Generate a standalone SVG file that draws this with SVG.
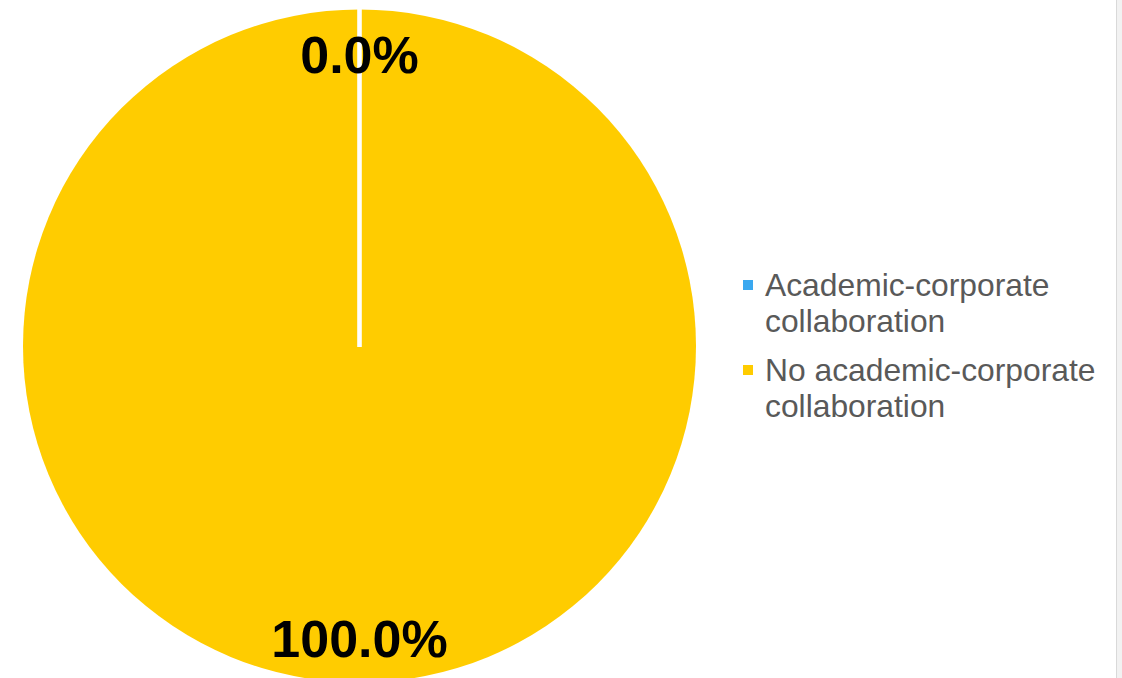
<svg xmlns="http://www.w3.org/2000/svg" width="1122" height="678" viewBox="0 0 1122 678">
  <style>
    .lbl { font-family: "Liberation Sans", Arial, sans-serif; font-weight: bold; font-size: 52px; fill: #000000; text-anchor: middle; }
    .leg { font-family: "Liberation Sans", Arial, sans-serif; font-size: 31.8px; fill: #595959; }
  </style>
  <rect x="0" y="0" width="1122" height="678" fill="#ffffff"/>
  <rect x="1117" y="0" width="5" height="678" fill="#f2f2f2"/>
  <line x1="1116.5" y1="0" x2="1116.5" y2="678" stroke="#d9d9d9" stroke-width="1"/>
  <g id="pie">
    <g id="slice-no-collab">
      <circle cx="359.5" cy="346" r="336.5" fill="#FFCC00"/>
    </g>
    <g id="connectors">
      <line id="slice-collab" x1="359.5" y1="347" x2="359.5" y2="0" stroke="#ffffff" stroke-width="4.6"/>
    </g>
  </g>
  <g id="label-0">
    <text class="lbl" x="359.5" y="73">0.0%</text>
  </g>
  <g id="label-100">
    <text class="lbl" x="359.5" y="657">100.0%</text>
  </g>
  <g id="legend-collab">
    <rect x="743" y="280" width="10" height="10" fill="#3AA8F0"/>
    <text class="leg" x="765" y="296">Academic-corporate</text>
    <text class="leg" x="765" y="332">collaboration</text>
  </g>
  <g id="legend-no-collab">
    <rect x="743" y="365" width="10" height="10" fill="#FFCC00"/>
    <text class="leg" x="765" y="381">No academic-corporate</text>
    <text class="leg" x="765" y="417">collaboration</text>
  </g>
</svg>
